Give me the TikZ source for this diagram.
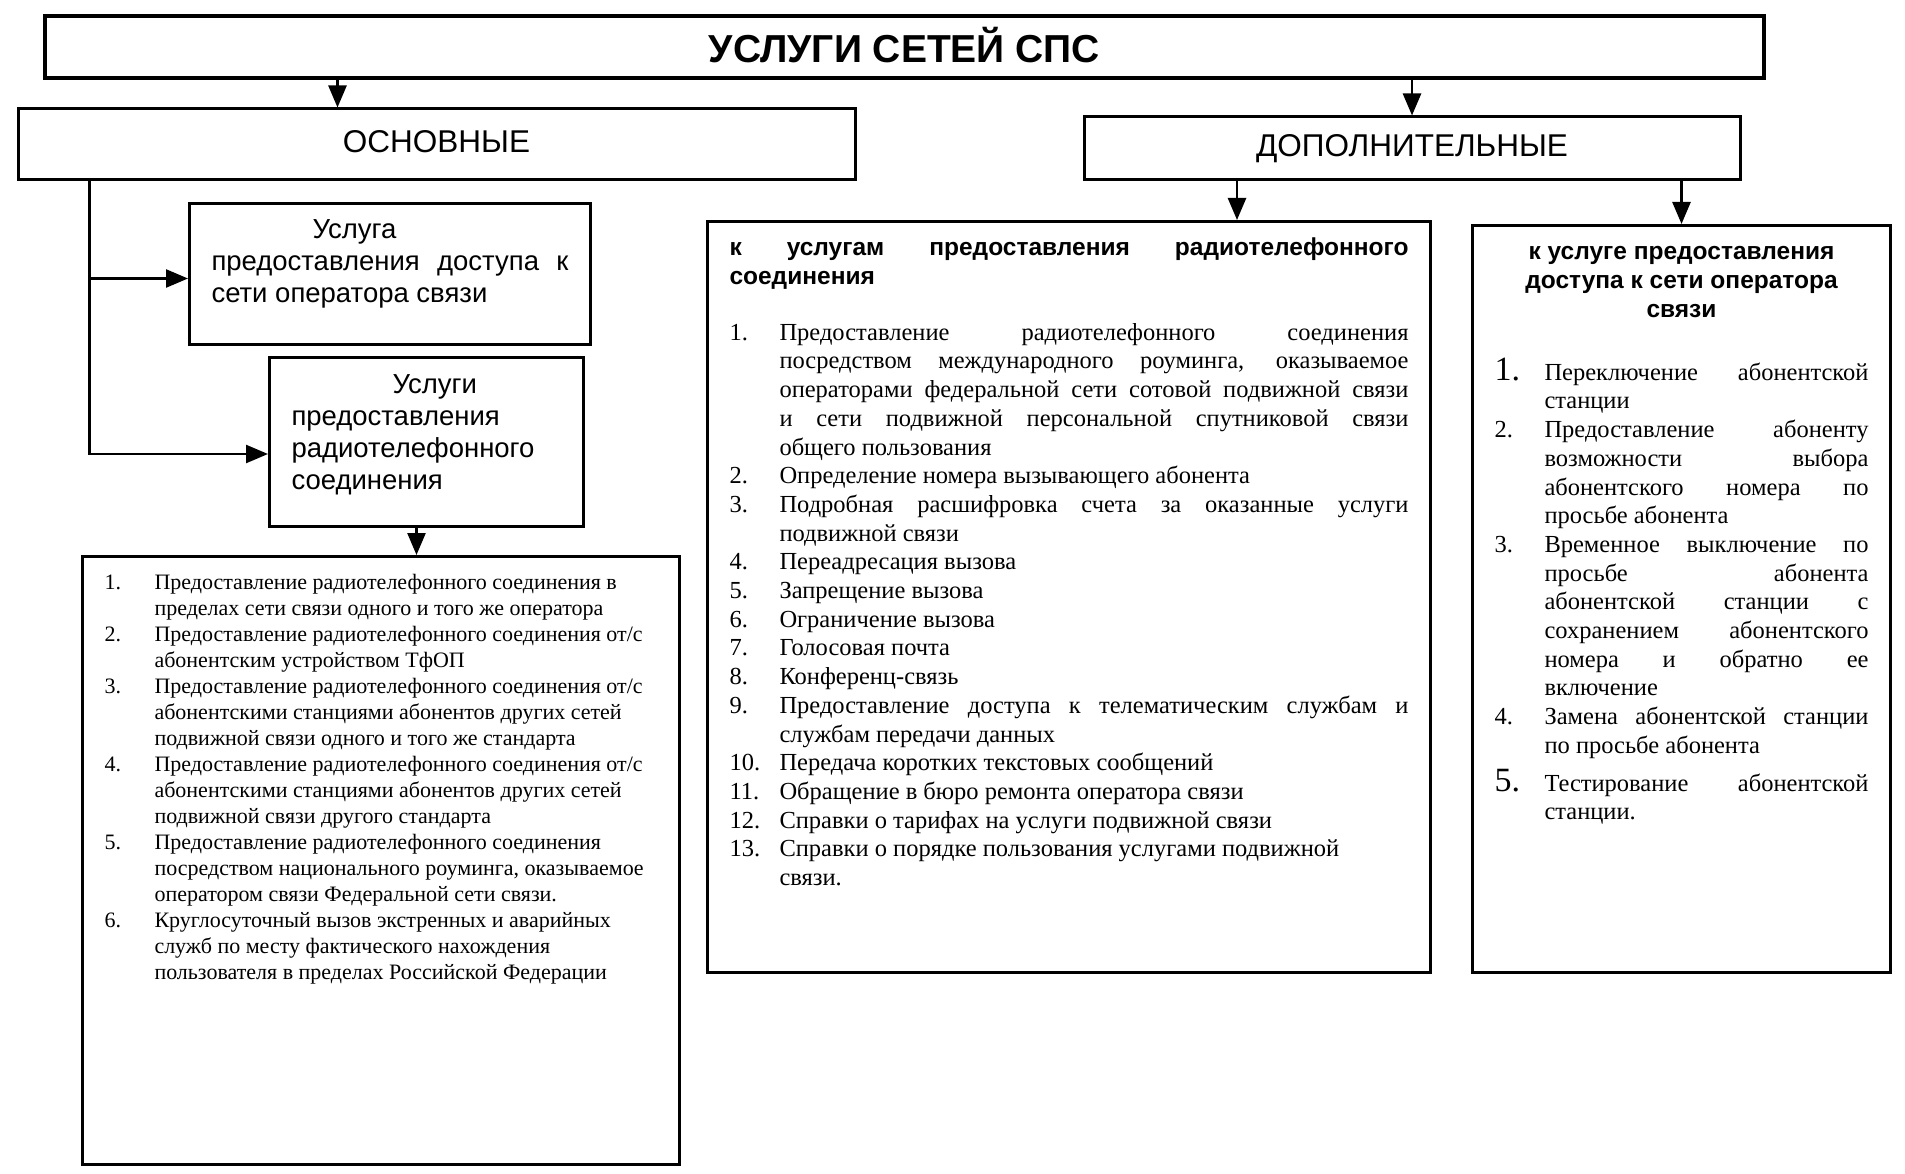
\documentclass[tikz,border=0pt]{standalone}
\usepackage{fontspec}
\setmainfont{Liberation Serif}
\setsansfont{Liberation Sans}
\usepackage{enumitem}
\setlist[enumerate]{label=\arabic*., leftmargin=50pt, labelwidth=50pt, labelsep=0pt, align=left, nosep}
\usetikzlibrary{arrows.meta}
\hyphenpenalty=10000
\exhyphenpenalty=10000

\begin{document}
\begin{tikzpicture}[
			x=1pt, y=-1pt,
			head/.style={rectangle, draw=black, line width=3pt, inner sep=0pt, font=\sffamily\fontsize{31.5}{36}\selectfont},
			card/.style={rectangle, draw=black, line width=3pt, anchor=north west, inner xsep=22pt, inner ysep=0pt, align=justify, font=\sffamily\fontsize{27.5}{32}\selectfont},
			listbox/.style={card, font=\rmfamily\fontsize{24.5}{28.7}\selectfont},
			arrow/.style={-{Triangle[length=22pt, width=18pt]}, line width=2.5pt, draw=black}
			]
			\useasboundingbox (0,0) rectangle (1905,1174);
			
			% Top level
			\node[head, minimum width=1719pt, minimum height=62pt, line width=3.5pt, text height=31pt, text depth=0pt, font=\sffamily\bfseries\fontsize{39}{44}\selectfont] (title) at (904.5,47) {УСЛУГИ СЕТЕЙ СПС};
			
			% Two branches
			\node[head, minimum width=837pt, minimum height=71pt, text depth=5pt] (osn) at (436.5,144.5) {ОСНОВНЫЕ};
			\node[head, minimum width=656pt, minimum height=63pt] (dop) at (1412,148.5) {ДОПОЛНИТЕЛЬНЫЕ};
			
			% Main services
			\node[card, text width=357pt, text height=35.5pt, text depth=105.5pt] (acc) at (188,202) {\hspace*{101pt}Услуга\newline предоставления доступа к\linebreak сети оператора связи};
			\node[card, text width=270pt, text height=36pt, text depth=133pt] (rad) at (268,356) {\hspace*{101pt}Услуги\newline предоставления\newline радиотелефонного\newline соединения};
			
			\node[listbox, font=\rmfamily\fontsize{22}{26}\selectfont, text width=553pt, text height=7pt, text depth=601pt] (lst) at (81,555) {%
				\begin{enumerate}
					\item Предоставление радиотелефонного соединения в\newline пределах сети связи одного и того же оператора
					\item Предоставление радиотелефонного соединения от/с\newline абонентским устройством ТфОП
					\item Предоставление радиотелефонного соединения от/с\newline абонентскими станциями абонентов других сетей\newline подвижной связи одного и того же стандарта
					\item Предоставление радиотелефонного соединения от/с\newline абонентскими станциями абонентов других сетей\newline подвижной связи другого стандарта
					\item Предоставление радиотелефонного соединения\newline посредством национального роуминга, оказываемое\newline оператором связи Федеральной сети связи.
					\item Круглосуточный вызов экстренных и аварийных\newline служб по месту фактического нахождения\newline пользователя в пределах Российской Федерации
				\end{enumerate}};
			
			% Additional services
			\node[listbox, text width=679pt, text height=34pt, text depth=717pt] (mid) at (706,220) {%
				{\sffamily\bfseries\fontsize{24.5}{29}\selectfont к услугам предоставления радиотелефонного\linebreak соединения\par}
				\vspace{27pt}
				\begin{enumerate}
					\item Предоставление радиотелефонного соединения\linebreak посредством международного роуминга, оказываемое\linebreak операторами федеральной сети сотовой подвижной связи\linebreak и сети подвижной персональной спутниковой связи\linebreak общего пользования
					\item Определение номера вызывающего абонента
					\item Подробная расшифровка счета за оказанные услуги\linebreak подвижной связи
					\item Переадресация вызова
					\item Запрещение вызова
					\item Ограничение вызова
					\item Голосовая почта
					\item Конференц-связь
					\item Предоставление доступа к телематическим службам и\linebreak службам передачи данных
					\item Передача коротких текстовых сообщений
					\item Обращение в бюро ремонта оператора связи
					\item Справки о тарифах на услуги подвижной связи
					\item Справки о порядке пользования услугами подвижной\newline связи.
				\end{enumerate}};
			
			\node[listbox, text width=374pt, text height=34pt, text depth=713pt] (rgt) at (1471,224) {%
				{\centering\sffamily\bfseries\fontsize{24.5}{29}\selectfont к услуге предоставления\\доступа к сети оператора\\связи\par}
				\vspace{34pt}
				\begin{enumerate}
					\item[\fontsize{34}{34}\selectfont 1.] Переключение абонентской\linebreak станции
					\item[2.] Предоставление абоненту\linebreak возможности выбора\linebreak абонентского номера по\linebreak просьбе абонента
					\item[3.] Временное выключение по\linebreak просьбе абонента\linebreak абонентской станции с\linebreak сохранением абонентского\linebreak номера и обратно ее\linebreak включение
					\item[4.] Замена абонентской станции\linebreak по просьбе абонента\vspace{9pt}
					\item[\fontsize{34}{34}\selectfont 5.] Тестирование абонентской\linebreak станции.
				\end{enumerate}};
			
			% Arrows
			\coordinate (osnin) at ([xshift=-99pt]osn.north);
			\coordinate (trunk) at ([xshift=73pt]osn.south west);
			\coordinate (accin) at ([yshift=-4.5pt]acc.west);
			\coordinate (radin) at ([yshift=-12pt]rad.west);
			\coordinate (radout) at ([xshift=-10pt]rad.south);
			\coordinate (dopout) at ([xshift=-175pt]dop.south);
			
			\draw[arrow] (osnin |- title.south) -- (osnin);
			\draw[arrow] (title.south -| dop.north) -- (dop.north);
			\draw[arrow] (trunk) |- (radin);
			\draw[arrow] (trunk |- accin) -- (accin);
			\draw[arrow] (radout) -- (radout |- lst.north);
			\draw[arrow] (dopout) -- (dopout |- mid.north);
			\draw[arrow] (dop.south -| rgt.north) -- (rgt.north);
			
		\end{tikzpicture}
\end{document}
